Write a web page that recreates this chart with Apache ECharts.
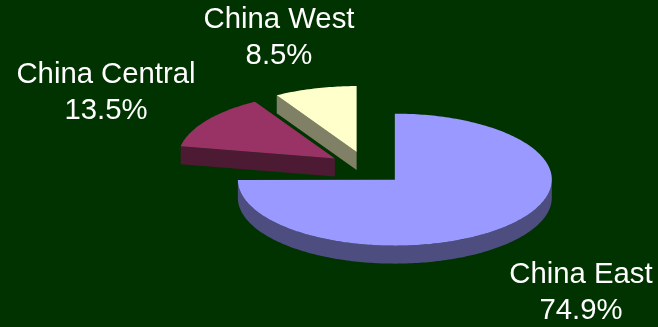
<!DOCTYPE html>
<html>
<head>
<meta charset="utf-8">
<script src="https://cdn.jsdelivr.net/npm/echarts@6/dist/echarts.min.js"></script>
<style>
  html, body { margin: 0; padding: 0; background: #003300; }
  #chart { width: 658px; height: 327px; }
</style>
</head>
<body>
<div id="chart"></div>
<script>
// Regional share, percent of total
const categories = ['China East', 'China Central', 'China West'];
const shares = [74.9, 13.5, 8.5];
const shareLabels = ['74.9%', '13.5%', '8.5%'];

// Face colours: top, side
const topColors = ['#9999FF', '#993366', '#FFFFCC'];
const sideColors = ['#4D4D80', '#4D1A33', '#808066'];

// Pie geometry (pixels)
const CX = 367, CY = 168;   // centre of the unexploded pie
const RX = 157, RY = 66;    // tilted disc radii
const DEPTH = 18;           // disc thickness
const EXPLODE = 0.25;       // slice pull-out, fraction of radius

// Label block positions (centre x, top y)
const labelPlace = {
  'China East': [581, 257],
  'China Central': [106, 57],
  'China West': [279, 2]
};

// Angles measured clockwise from 12 o'clock. The first region starts at the
// top going clockwise; the others are packed against the top from the left.
const TOTAL = 100;
const toRad = p => p / TOTAL * Math.PI * 2;
const starts = [], ends = [];
starts[0] = 0; ends[0] = toRad(shares[0]);
let back = TOTAL;
for (let i = shares.length - 1; i >= 1; i--) {
  ends[i] = toRad(back);
  back -= shares[i];
  starts[i] = toRad(back);
}

function pt(ox, oy, t, dz) {
  return [ox + RX * Math.sin(t), oy - RY * Math.cos(t) + dz];
}
function arc(ox, oy, a0, a1, dz) {
  const pts = [];
  const n = Math.max(2, Math.ceil((a1 - a0) / (Math.PI / 180)));
  for (let k = 0; k <= n; k++) pts.push(pt(ox, oy, a0 + (a1 - a0) * k / n, dz));
  return pts;
}

function renderItem(params, api) {
  const i = params.dataIndex;
  const a0 = starts[i], a1 = ends[i];
  const mid = (a0 + a1) / 2;
  const ox = CX + Math.sin(mid) * EXPLODE * RX;
  const oy = CY - Math.cos(mid) * EXPLODE * RY;
  // slices nearer the viewer are drawn above those behind
  const base = Math.round((-Math.cos(mid) + 1) * 100);
  const children = [];

  // outer rim, the part facing the viewer (between 90 and 270 degrees)
  const r0 = Math.max(a0, Math.PI / 2), r1 = Math.min(a1, Math.PI * 1.5);
  if (r1 > r0) {
    const topArc = arc(ox, oy, r0, r1, 0);
    const botArc = arc(ox, oy, r0, r1, DEPTH).reverse();
    children.push({
      type: 'polygon', z2: base + 1,
      shape: { points: topArc.concat(botArc) },
      style: { fill: sideColors[i] }
    });
  }
  // radial cut faces
  [[a0, a0 - Math.PI / 2], [a1, a1 + Math.PI / 2]].forEach(([a, normal]) => {
    if (-Math.cos(normal) > 0.01) {
      const p = pt(ox, oy, a, 0);
      children.push({
        type: 'polygon', z2: base + 2,
        shape: { points: [[ox, oy], p, [p[0], p[1] + DEPTH], [ox, oy + DEPTH]] },
        style: { fill: sideColors[i] }
      });
    }
  });
  // top face
  children.push({
    type: 'polygon', z2: base + 3,
    shape: { points: [[ox, oy]].concat(arc(ox, oy, a0, a1, 0)) },
    style: { fill: topColors[i] }
  });
  // label
  const name = categories[i];
  const lp = labelPlace[name];
  children.push({
    type: 'text', z2: 500,
    style: {
      text: name + '\n' + shareLabels[i],
      x: lp[0], y: lp[1],
      fill: '#FFFFFF',
      fontSize: 29.3,
      fontFamily: '"Liberation Sans", Arial, sans-serif',
      align: 'center', verticalAlign: 'top',
      lineHeight: 36
    }
  });
  return { type: 'group', children };
}

const chart = echarts.init(document.getElementById('chart'), null, { renderer: 'canvas' });
chart.setOption({
  backgroundColor: '#003300',
  animation: false,
  series: [{
    type: 'custom',
    coordinateSystem: 'none',
    renderItem,
    data: categories.map((c, i) => ({ name: c, value: shares[i] }))
  }]
});
</script>
</body>
</html>
